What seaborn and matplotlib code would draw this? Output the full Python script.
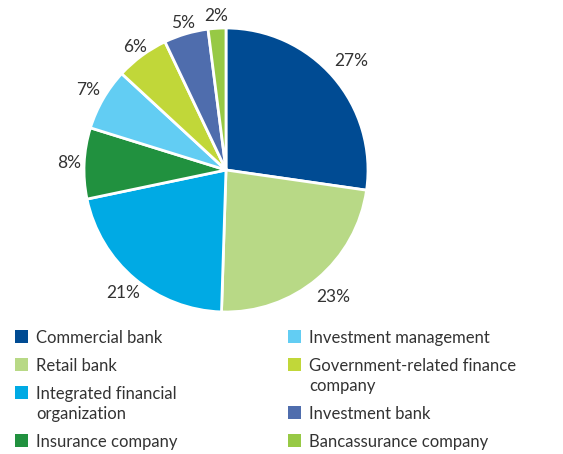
import matplotlib
matplotlib.use("Agg")
import matplotlib.pyplot as plt
from matplotlib.patches import Patch
import numpy as np
import seaborn as sns

# data
categories = ["Commercial bank", "Retail bank", "Integrated financial\norganization",
              "Insurance company", "Investment management",
              "Government-related finance\ncompany", "Investment bank",
              "Bancassurance company"]
shares = [27, 23, 21, 8, 7, 6, 5, 2]
pct_labels = ["27%", "23%", "21%", "8%", "7%", "6%", "5%", "2%"]
colors = ["#004b93", "#b8d986", "#00aae4", "#21913f",
          "#62cdf3", "#c1d739", "#4f6dad", "#97c945"]
# how far out each percent label sits (in radii)
label_dist = [1.17, 1.17, 1.13, 1.105, 1.12, 1.075, 1.077, 1.09]

sns.set_theme(style="white")
plt.rcParams["font.family"] = ["Lato", "DejaVu Sans"]
text_color = "#333333"

fig = plt.figure(figsize=(5.63, 4.54), dpi=100)
ax = fig.add_axes([84 / 563, (454 - 312) / 454, 284 / 563, 284 / 454])

palette = sns.color_palette(colors)
wedges, texts = ax.pie(shares, labels=pct_labels, colors=palette,
                       startangle=90, counterclock=False, radius=1,
                       labeldistance=1.12,
                       wedgeprops=dict(edgecolor="white", linewidth=2),
                       textprops=dict(fontsize=12.5, color=text_color,
                                      ha="center", va="center"))
# nudge labels to the reference distances
for w, t, d in zip(wedges, texts, label_dist):
    ang = np.deg2rad((w.theta1 + w.theta2) / 2)
    t.set_position((d * np.cos(ang), d * np.sin(ang)))
ax.set_xlim(-1, 1)
ax.set_ylim(-1, 1)
ax.set_aspect("equal")

#legend: two columns, same order as the slices
handles = [Patch(facecolor=c, edgecolor="none") for c in palette]
leg_kw = dict(loc="upper left", frameon=False, fontsize=12,
              labelcolor=text_color, handlelength=0.8, handleheight=0.8,
              handletextpad=0.45, labelspacing=0.72, borderpad=0.0,
              borderaxespad=0.0)
legends = [
    fig.legend(handles[:4], categories[:4],
               bbox_to_anchor=(15 / 563, 1 - 330 / 454), **leg_kw),
    fig.legend(handles[4:], categories[4:],
               bbox_to_anchor=(288 / 563, 1 - 330 / 454), **leg_kw),
]
for leg in legends:
    for t in leg.get_texts():
        t.set_linespacing(1.3)
    # marker next to the first line of a wrapped label
    for col in leg._legend_handle_box.get_children():
        for row in col.get_children():
            row.align = "top"

fig.savefig("out.png", dpi=100)
